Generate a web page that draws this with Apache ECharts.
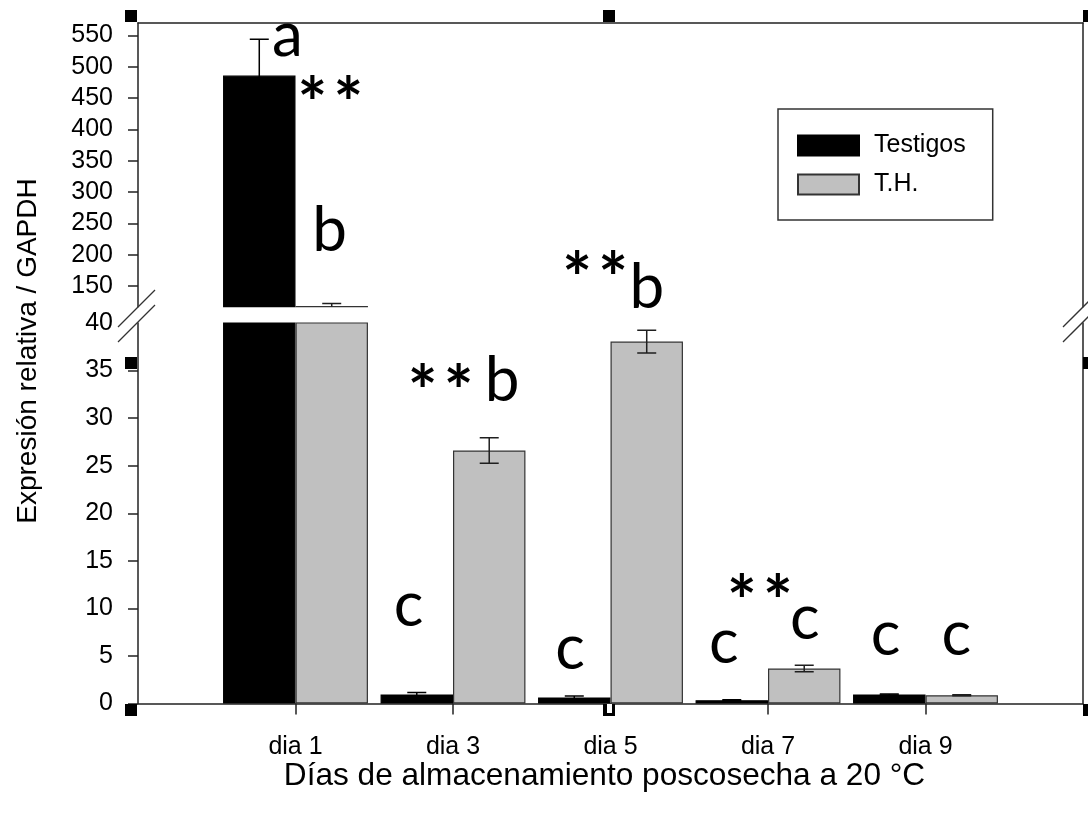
<!DOCTYPE html>
<html>
<head>
<meta charset="utf-8">
<script src="https://cdn.jsdelivr.net/npm/echarts@6/dist/echarts.min.js"></script>
<style>
  html, body { margin: 0; padding: 0; background: #fff; }
  #chart { width: 1088px; height: 813px; }
</style>
</head>
<body>
<div id="chart"></div>
<script>
// Relative expression per storage day (two treatments), broken y axis
const days = ['dia 1', 'dia 3', 'dia 5', 'dia 7', 'dia 9'];
const testigos = [486, 0.95, 0.63, 0.35, 0.95];
const testigosErr = [58, 0.2, 0.17, 0.05, 0.05];
const th = [118, 26.6, 38.05, 3.68, 0.87];
const thErr = [4, 1.35, 1.2, 0.35, 0.05];

// Axis scales of the two panels
const lowerRange = [0, 40];
const upperRange = [117, 570];
const lowerTickValues = [0, 5, 10, 15, 20, 25, 30, 35];
const lowerLabelValues = [0, 5, 10, 15, 20, 25, 30, 35, 40];
const upperTickValues = [150, 200, 250, 300, 350, 400, 450, 500, 550];

// Group letters: day index, offset across the band, baseline value, letter
const upperLetterDay = [0, 0];
const upperLetterShift = [-0.051, 0.216];
const upperLetterValue = [519, 207.5];
const upperLetterText = ['a', 'b'];

const lowerLetterDay = [1, 2, 1, 2, 3, 3, 4, 4];
const lowerLetterShift = [0.312, 0.231, -0.282, -0.257, -0.28, 0.233, -0.253, 0.196];
const lowerLetterValue = [31.93, 41.72, 8.25, 3.72, 4.35, 6.87, 5.19, 5.19];
const lowerLetterText = ['b', 'b', 'c', 'c', 'c', 'c', 'c', 'c'];

// Significance marks (**): day index, offset across the band, centre value
const upperStarDay = [0];
const upperStarShift = [0.222];
const upperStarValue = [467.8];

const lowerStarDay = [1, 2, 3];
const lowerStarShift = [-0.078, -0.098, -0.052];
const lowerStarValue = [34.56, 46.45, 12.45];

// Category axis padded with empty slots at both ends
const axisCats = [''].concat(days, ['']);
const pad = arr => [null].concat(arr, [null]);

const BAR_FRACTION = 0.46;
const CAP = 19;
const LETTER_SIZE = 62;
const LETTER_SHIFT = 19;
const STAR_SIZE = 70;
const STAR_SPACING = 36;
const STAR_DROP = 0.28 * STAR_SIZE;
const AXIS_COLOR = '#222';
const FONT = '"Liberation Sans", Arial, sans-serif';
const LETTER_FONT = 'Lato, "Open Sans", sans-serif';

function errorBars(values, errs, side, color, xi, yi) {
  return {
    type: 'custom',
    xAxisIndex: xi,
    yAxisIndex: yi,
    clip: true,
    z: 5,
    silent: true,
    data: values.map((v, i) => [i + 1, v, errs[i]]),
    renderItem: function (params, api) {
      const idx = api.value(0), v = api.value(1), e = api.value(2);
      const band = api.size([1, 0])[0];
      const hi = api.coord([idx, v + e]);
      const lo = api.coord([idx, v - e]);
      const x = hi[0] + side * band * BAR_FRACTION / 2;
      const st = { stroke: color, lineWidth: 1.5 };
      return {
        type: 'group',
        children: [
          { type: 'line', shape: { x1: x, y1: hi[1], x2: x, y2: lo[1] }, style: st },
          { type: 'line', shape: { x1: x - CAP / 2, y1: hi[1], x2: x + CAP / 2, y2: hi[1] }, style: st },
          { type: 'line', shape: { x1: x - CAP / 2, y1: lo[1], x2: x + CAP / 2, y2: lo[1] }, style: st }
        ]
      };
    }
  };
}

function letterSeries(dayIdx, shifts, vals, texts, xi, yi) {
  return {
    type: 'custom',
    xAxisIndex: xi,
    yAxisIndex: yi,
    clip: false,
    z: 6,
    silent: true,
    data: vals.map((v, i) => [dayIdx[i] + 1, v]),
    renderItem: function (params, api) {
      const i = params.dataIndex;
      const band = api.size([1, 0])[0];
      const p = api.coord([api.value(0), api.value(1)]);
      return {
        type: 'text',
        x: p[0] + shifts[i] * band,
        y: p[1] - LETTER_SHIFT,
        style: {
          text: texts[i],
          fill: '#000',
          fontSize: LETTER_SIZE,
          fontFamily: LETTER_FONT,
          align: 'center',
          verticalAlign: 'middle'
        }
      };
    }
  };
}

function starSeries(dayIdx, shifts, vals, xi, yi) {
  return {
    type: 'custom',
    xAxisIndex: xi,
    yAxisIndex: yi,
    clip: false,
    z: 6,
    silent: true,
    data: vals.map((v, i) => [dayIdx[i] + 1, v]),
    renderItem: function (params, api) {
      const i = params.dataIndex;
      const band = api.size([1, 0])[0];
      const p = api.coord([api.value(0), api.value(1)]);
      const cx = p[0] + shifts[i] * band;
      const star = dx => ({
        type: 'text',
        x: cx + dx,
        y: p[1] + STAR_DROP,
        style: {
          text: '*',
          fill: '#000',
          fontSize: STAR_SIZE,
          fontWeight: 'bold',
          fontFamily: LETTER_FONT,
          align: 'center',
          verticalAlign: 'middle'
        }
      });
      return { type: 'group', children: [star(-STAR_SPACING / 2), star(STAR_SPACING / 2)] };
    }
  };
}

function bars(name, values, color, border, xi, yi) {
  return {
    name: name,
    type: 'bar',
    xAxisIndex: xi,
    yAxisIndex: yi,
    barWidth: (BAR_FRACTION * 100) + '%',
    barGap: '0%',
    clip: true,
    silent: true,
    itemStyle: { color: color, borderColor: border, borderWidth: 1.2 },
    data: pad(values)
  };
}

const lineOnly = { show: true, lineStyle: { color: AXIS_COLOR, width: 1.5 } };

const chart = echarts.init(document.getElementById('chart'), null, { renderer: 'canvas' });

const handle = (x, y) => ({ type: 'rect', shape: { x: x, y: y, width: 12, height: 12 }, style: { fill: '#000' }, z: 100 });
const brk = (x1, y1, x2, y2) => ({ type: 'line', shape: { x1: x1, y1: y1, x2: x2, y2: y2 }, style: { stroke: '#333', lineWidth: 1.3 }, z: 100 });

chart.setOption({
  backgroundColor: '#fff',
  animation: false,
  textStyle: { fontFamily: FONT, color: '#000' },
  grid: [
    { left: 138, right: 5, top: 323, bottom: 109.5 },
    { left: 138, right: 5, top: 23, bottom: 506.3 }
  ],
  legend: {
    data: ['Testigos', 'T.H.'],
    orient: 'vertical',
    left: 778,
    top: 109,
    padding: [24, 27, 23, 19],
    itemWidth: 61,
    itemHeight: 20,
    itemGap: 14,
    icon: 'rect',
    selectedMode: false,
    borderColor: '#333',
    borderWidth: 1.5,
    textStyle: { fontFamily: FONT, fontSize: 25, color: '#000', padding: [0, 0, 0, 10] }
  },
  xAxis: [
    {
      type: 'category',
      gridIndex: 0,
      data: axisCats,
      boundaryGap: false,
      axisLine: lineOnly,
      axisTick: {
        show: true, inside: false, length: 11,
        interval: function (i) { return i >= 1 && i <= days.length; },
        lineStyle: { color: AXIS_COLOR, width: 1.5 }
      },
      axisLabel: { interval: 0, fontSize: 25, color: '#000', margin: 31, fontFamily: FONT },
      splitLine: { show: false },
      name: 'Días de almacenamiento poscosecha a 20 °C',
      nameLocation: 'middle',
      nameGap: 54,
      nameTextStyle: { fontSize: 31.6, color: '#000', fontFamily: FONT, padding: [0, 12, 0, 0] }
    },
    { type: 'category', gridIndex: 1, data: axisCats, boundaryGap: false, show: false },
    {
      type: 'category',
      gridIndex: 1,
      position: 'top',
      data: axisCats,
      boundaryGap: false,
      axisLine: lineOnly,
      axisTick: { show: false },
      axisLabel: { show: false },
      splitLine: { show: false }
    }
  ],
  yAxis: [
    {
      type: 'value',
      gridIndex: 0,
      min: lowerRange[0],
      max: lowerRange[1],
      axisLine: lineOnly,
      axisTick: { show: true, length: 10, customValues: lowerTickValues, lineStyle: { color: AXIS_COLOR, width: 1.5 } },
      axisLabel: { fontSize: 25, color: '#000', margin: 25, customValues: lowerLabelValues, fontFamily: FONT },
      splitLine: { show: false }
    },
    {
      type: 'value',
      gridIndex: 0,
      position: 'right',
      min: lowerRange[0],
      max: lowerRange[1],
      axisLine: lineOnly,
      axisTick: { show: false },
      axisLabel: { show: false },
      splitLine: { show: false }
    },
    {
      type: 'value',
      gridIndex: 1,
      min: upperRange[0],
      max: upperRange[1],
      axisLine: lineOnly,
      axisTick: { show: true, length: 10, customValues: upperTickValues, lineStyle: { color: AXIS_COLOR, width: 1.5 } },
      axisLabel: { fontSize: 25, color: '#000', margin: 25, customValues: upperTickValues, fontFamily: FONT },
      splitLine: { show: false }
    },
    {
      type: 'value',
      gridIndex: 1,
      position: 'right',
      min: upperRange[0],
      max: upperRange[1],
      axisLine: lineOnly,
      axisTick: { show: false },
      axisLabel: { show: false },
      splitLine: { show: false }
    }
  ],
  series: [
    bars('Testigos', testigos, '#000', '#000', 0, 0),
    bars('T.H.', th, '#c0c0c0', '#333', 0, 0),
    bars('Testigos', testigos, '#000', '#000', 1, 2),
    bars('T.H.', th, '#c0c0c0', '#333', 1, 2),
    errorBars(testigos, testigosErr, -1, '#000', 0, 0),
    errorBars(th, thErr, 1, '#1f1f1f', 0, 0),
    errorBars(testigos, testigosErr, -1, '#000', 1, 2),
    errorBars(th, thErr, 1, '#1f1f1f', 1, 2),
    letterSeries(upperLetterDay, upperLetterShift, upperLetterValue, upperLetterText, 1, 2),
    letterSeries(lowerLetterDay, lowerLetterShift, lowerLetterValue, lowerLetterText, 0, 0),
    starSeries(upperStarDay, upperStarShift, upperStarValue, 1, 2),
    starSeries(lowerStarDay, lowerStarShift, lowerStarValue, 0, 0)
  ],
  graphic: [
    {
      type: 'text',
      x: 28,
      y: 351,
      rotation: Math.PI / 2,
      style: {
        text: 'Expresión relativa / GAPDH',
        fontSize: 28,
        fontFamily: FONT,
        fill: '#000',
        align: 'center',
        verticalAlign: 'middle'
      }
    },
    // axis break marks
    brk(118, 327, 155, 290),
    brk(118, 342, 155, 305),
    brk(1063, 327, 1100, 290),
    brk(1063, 342, 1100, 305),
    // frame handles
    handle(125, 10), handle(603, 10), handle(1083, 10),
    handle(125, 357), handle(1083, 357),
    handle(125, 704), handle(603, 704), handle(1083, 704),
    { type: 'rect', shape: { x: 607, y: 704, width: 5, height: 9 }, style: { fill: '#fff' }, z: 101 }
  ]
});
</script>
</body>
</html>
